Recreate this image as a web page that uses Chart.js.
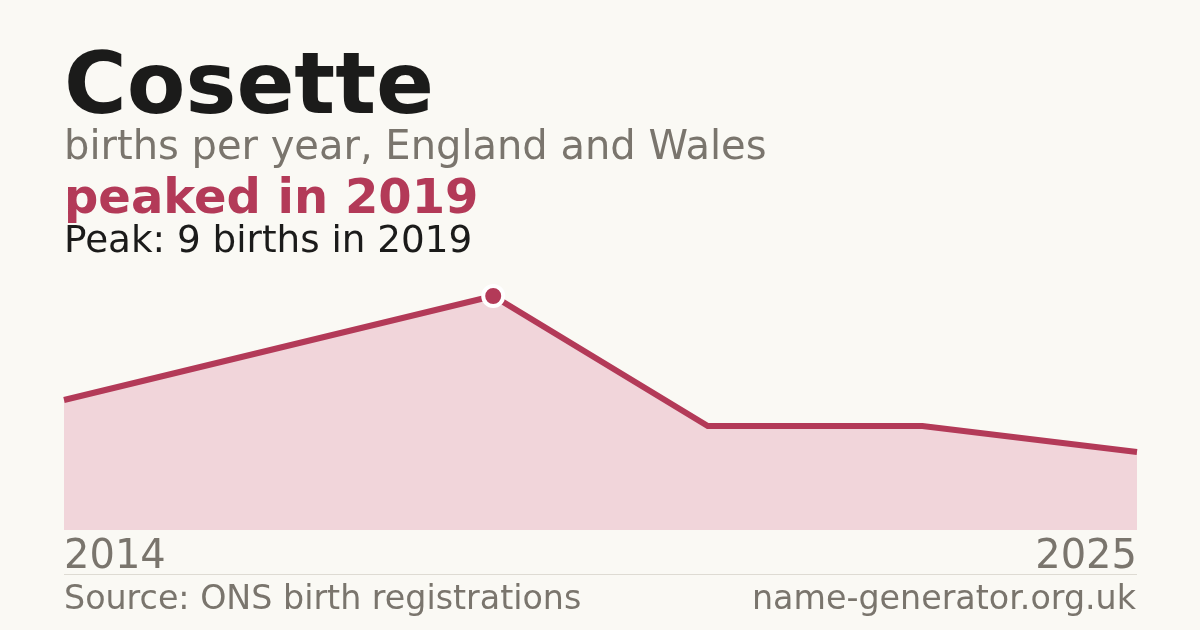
<!DOCTYPE html>
<html>
<head>
<meta charset="utf-8">
<script src="https://cdn.jsdelivr.net/npm/chart.js@4.4.1/dist/chart.umd.min.js"></script>
<style>
  html, body { margin: 0; padding: 0; }
  body {
    width: 1200px; height: 630px; position: relative; overflow: hidden;
    background: #faf9f4; font-family: "DejaVu Sans", sans-serif;
  }
  #chart { position: absolute; left: 0; top: 0; }
  .txt { position: absolute; line-height: 1; white-space: nowrap; }
  #title { left: 64px; top: 41px; font-size: 85.5px; font-weight: bold; color: #1b1b1a; }
  #sub { left: 64px; top: 125px; font-size: 40px; color: #7a756d; }
  #headline { left: 64px; top: 172px; font-size: 48px; font-weight: bold; color: #b33a58; }
  #note { left: 64px; top: 221px; font-size: 37.3px; color: #1b1b1a; }
  #rule { position: absolute; left: 64px; top: 574px; width: 1073px; height: 1px; background: #dedbd3; }
  #source { left: 64px; top: 581px; font-size: 33.3px; color: #7a756d; }
  #site { right: 64px; top: 581px; font-size: 33.3px; color: #7a756d; }
</style>
</head>
<body>
<canvas id="chart" width="1200" height="630"></canvas>
<div class="txt" id="title">Cosette</div>
<div class="txt" id="sub">births per year, England and Wales</div>
<div class="txt" id="headline">peaked in 2019</div>
<div class="txt" id="note">Peak: 9 births in 2019</div>
<div id="rule"></div>
<div class="txt" id="source">Source: ONS birth registrations</div>
<div class="txt" id="site">name-generator.org.uk</div>
<script>
// births per year (only first and last year are labelled on the axis)
const years = ['2014', '2017', '2019', '2021', '2023', '2025'];
const births = [5, 7, 9, 4, 4, 3];
const peakIndex = 2;

const accent = '#b33a58';

const ctx = document.getElementById('chart').getContext('2d');
new Chart(ctx, {
    type: 'line',
    data: {
        labels: years,
        datasets: [{
            data: births,
            borderColor: accent,
            borderWidth: 6,
            backgroundColor: '#f1d5da',
            fill: 'origin',
            tension: 0,
            pointRadius: births.map((v, i) => i === peakIndex ? 10 : 0),
            pointBackgroundColor: accent,
            pointBorderColor: '#ffffff',
            pointBorderWidth: 4,
            pointHoverRadius: 0,
        }],
    },
    options: {
        responsive: false,
        animation: false,
        events: [],
        layout: {
            padding: { left: 64, right: 63, top: 270, bottom: 50 },
        },
        plugins: {
            legend: { display: false },
            tooltip: { enabled: false },
        },
        scales: {
            x: {
                grid: { display: false, drawTicks: false },
                border: { display: false },
                afterFit: function (scale) { scale.height = 50; },
                ticks: {
                    autoSkip: false,
                    maxRotation: 0,
                    align: 'inner',
                    padding: 4,
                    color: '#7a756d',
                    font: { family: 'DejaVu Sans', size: 40 },
                    callback: function (value, index) {
                        return (index === 0 || index === years.length - 1) ? years[index] : '';
                    },
                },
            },
            y: {
                display: false,
                min: 0,
                max: 10,
            },
        },
    },
});
</script>
</body>
</html>
